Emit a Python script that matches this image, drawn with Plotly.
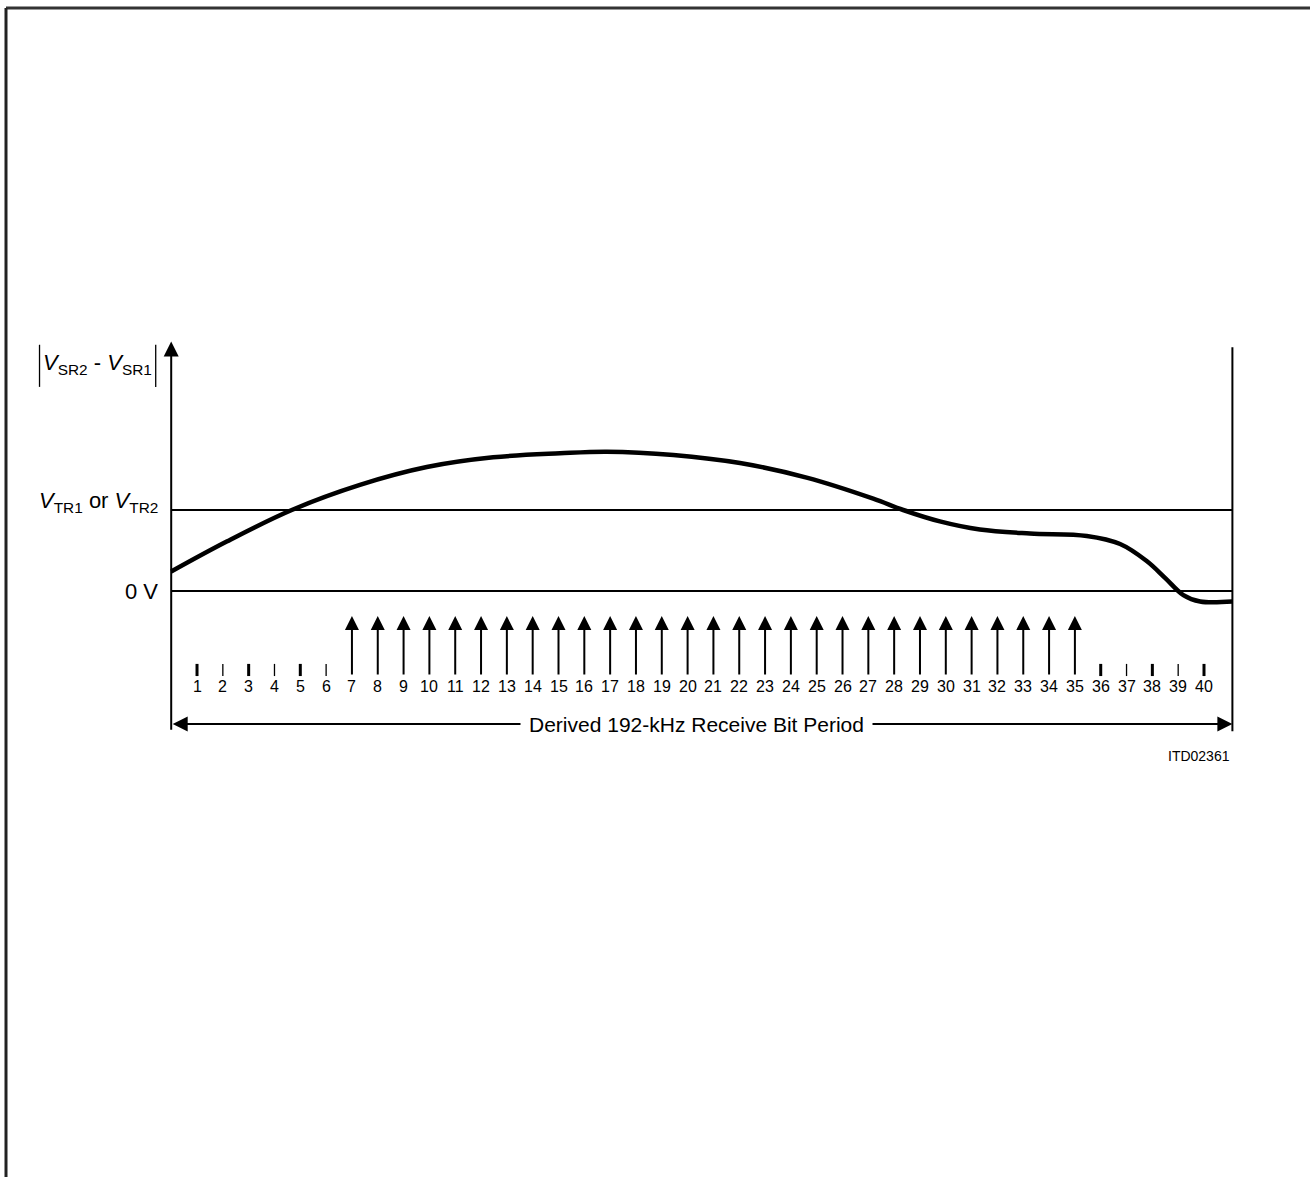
import plotly.graph_objects as go

# sample numbers along the receive bit period
samples = list(range(1, 41))
# samples taken while the signal is above threshold (drawn as arrows)
sampled = list(range(7, 36))
thick_ticks = [1, 3, 5, 36, 38, 40]

# |VSR2 - VSR1| waveform (0 V = 0, threshold VTR = 1)
curve_x = [0, 2.15, 4.67, 7.31, 9.9, 12.47, 15.06, 16.87, 19.45, 22.03, 24.61, 27.19,
           28.35, 29.77, 31.32, 33.26, 35.46, 36.75, 37.78, 38.5, 39.2, 39.85, 41.1]
curve_y = [0.24, 0.61, 1.0, 1.31, 1.53, 1.65, 1.70, 1.72, 1.68, 1.58, 1.40, 1.14,
           1.0, 0.86, 0.76, 0.71, 0.68, 0.58, 0.37, 0.16, -0.05, -0.13, -0.13]

zero_level = 0
threshold = 1
x_end = 41.1

FONT = "Liberation Sans Narrow, Arial Narrow, Liberation Sans, Arial"

fig = go.Figure()
fig.add_trace(go.Scatter(x=curve_x, y=curve_y, mode='lines',
                         line=dict(color='black', width=4.5, shape='spline', smoothing=1.0),
                         hoverinfo='skip'))

shapes = []
annos = []

# level lines
for lvl in [zero_level, threshold]:
    shapes.append(dict(type='line', xref='x', yref='y', x0=0, x1=x_end, y0=lvl, y1=lvl,
                       line=dict(color='black', width=2)))
# right boundary
shapes.append(dict(type='line', xref='x', yref='y', x0=x_end, x1=x_end, y0=-1.73, y1=3.01,
                   line=dict(color='black', width=2)))
# y axis with arrow
annos.append(dict(x=0, y=3.08, ax=0, ay=-1.73, xref='x', yref='y', axref='x', ayref='y',
                  showarrow=True, arrowhead=2, arrowwidth=2, arrowsize=1.5, arrowcolor='black', text=''))

# sample arrows and ticks
for s in samples:
    if s in sampled:
        annos.append(dict(x=s, y=-0.31, ax=s, ay=-1.05, xref='x', yref='y', axref='x', ayref='y',
                          showarrow=True, arrowhead=2, arrowwidth=2, arrowsize=1.4,
                          arrowcolor='black', text=''))
    else:
        shapes.append(dict(type='line', xref='x', yref='y', x0=s, x1=s, y0=-0.9, y1=-1.05,
                           line=dict(color='black', width=3 if s in thick_ticks else 1.3)))
    annos.append(dict(x=s, y=-1.185, xref='x', yref='y', text=str(s), showarrow=False,
                      font=dict(family=FONT, size=16, color='black')))

# bit period double arrow
annos.append(dict(x=x_end, y=-1.642, ax=0, ay=-1.642, xref='x', yref='y', axref='x', ayref='y',
                  showarrow=True, arrowhead=2, startarrowhead=2, arrowside='end+start',
                  arrowwidth=2, arrowsize=1.5, startarrowsize=1.5, arrowcolor='black', text=''))
annos.append(dict(x=20.35, y=-1.642, xref='x', yref='y', text='Derived 192-kHz Receive Bit Period',
                  showarrow=False, bgcolor='white', borderpad=8,
                  font=dict(family=FONT, size=21, color='black')))
annos.append(dict(x=x_end, y=-2.04, xref='x', yref='y', xanchor='right',
                  text='ITD02361', showarrow=False,
                  font=dict(family=FONT, size=14, color='black')))

# level labels
annos.append(dict(x=-0.45, y=zero_level, xref='x', yref='y', xanchor='right', text='0 V',
                  showarrow=False, font=dict(family=FONT, size=22, color='black')))
annos.append(dict(x=-0.45, y=threshold + 0.1, xref='x', yref='y', xanchor='right',
                  text='<i>V</i><sub>TR1</sub> or <i>V</i><sub>TR2</sub>',
                  showarrow=False, font=dict(family=FONT, size=22, color='black')))
annos.append(dict(x=-2.85, y=2.8, xref='x', yref='y',
                  text='<i>V</i><sub>SR2</sub> - <i>V</i><sub>SR1</sub>',
                  showarrow=False, font=dict(family=FONT, size=22, color='black')))
for bx in [-5.1, -0.6]:
    shapes.append(dict(type='line', xref='x', yref='y', x0=bx, x1=bx, y0=2.52, y1=3.04,
                       line=dict(color='black', width=1.3)))

# page frame
shapes.append(dict(type='line', xref='paper', yref='paper', x0=6 / 1310, x1=1, y0=1 - 8 / 1177,
                   y1=1 - 8 / 1177, line=dict(color='#333333', width=3)))
shapes.append(dict(type='line', xref='paper', yref='paper', x0=6 / 1310, x1=6 / 1310, y0=0,
                   y1=1 - 8 / 1177, line=dict(color='#222222', width=3)))

px_per_x = 25.82
x0_px = 171.2
px_per_y = 81
y0_px = 591

fig.update_layout(
    width=1310, height=1177,
    margin=dict(l=0, r=0, t=0, b=0),
    paper_bgcolor='white', plot_bgcolor='white',
    showlegend=False,
    shapes=shapes, annotations=annos,
    xaxis=dict(range=[-x0_px / px_per_x, (1310 - x0_px) / px_per_x], visible=False, fixedrange=True),
    yaxis=dict(range=[(y0_px - 1177) / px_per_y, y0_px / px_per_y], visible=False, fixedrange=True),
)

fig.write_html("out.html", config={'displayModeBar': False},
               post_script="document.body.style.margin='0';")
